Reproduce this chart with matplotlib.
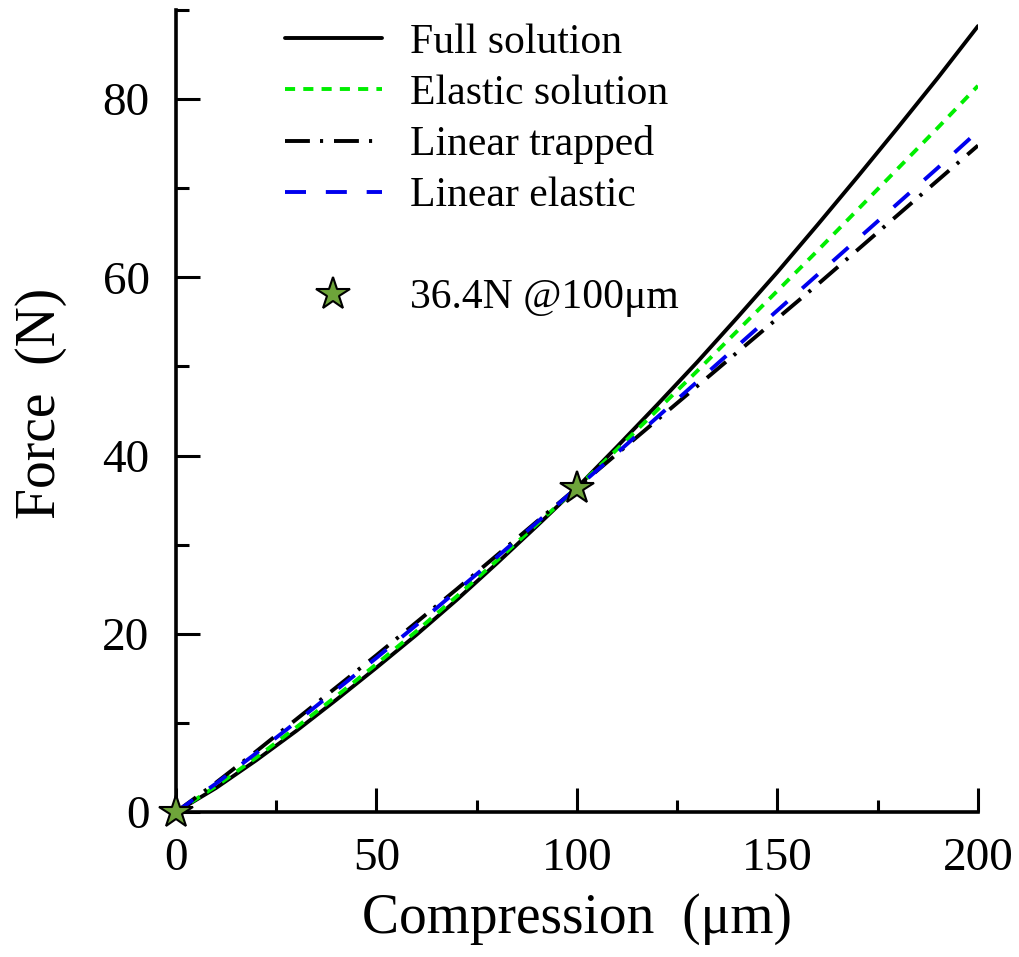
#!/usr/bin/env python3
"""Force vs compression curves for the full, elastic and linear solutions."""

import matplotlib

matplotlib.use("Agg")
import matplotlib.pyplot as plt
import numpy as np
from matplotlib.lines import Line2D

# Compression (um)
compression = [0, 10, 20, 30, 40, 50, 60, 70, 80, 90, 100,
               110, 120, 130, 140, 150, 160, 170, 180, 190, 200]

# Force (N)
full_solution = [0, 2.7, 5.8, 9.1, 12.6, 16.2, 19.9, 23.8, 27.9, 32.1, 36.4,
                 41.0, 45.7, 50.5, 55.5, 60.6, 65.9, 71.3, 76.8, 82.4, 88.2]
elastic_solution = [0, 2.9, 6.1, 9.5, 13.0, 16.6, 20.3, 24.2, 28.2, 32.3, 36.4,
                    40.7, 45.1, 49.5, 54.0, 58.5, 63.0, 67.6, 72.2, 76.8, 81.5]
linear_trapped = [0, 3.3, 6.8, 10.4, 14.0, 17.6, 21.3, 25.0, 28.8, 32.6, 36.4,
                  40.2, 44.0, 47.8, 51.6, 55.4, 59.2, 63.1, 67.0, 70.9, 74.8]
linear_elastic = [0, 3.2, 6.6, 10.1, 13.7, 17.3, 21.0, 24.8, 28.6, 32.5, 36.4,
                  40.3, 44.3, 48.3, 52.3, 56.3, 60.3, 64.3, 68.3, 72.3, 76.4]

star_x = [0, 100]
star_y = [0, 36.4]
star_label = "36.4N @100\u03bcm"
labels = ["Full solution", "Elastic solution", "Linear trapped", "Linear elastic"]

plt.rcParams["font.family"] = ["Liberation Serif", "DejaVu Serif"]

LW = 2.8
STAR_COLOR = "#6ea43a"

fig = plt.figure(figsize=(10.2, 9.57), dpi=100)
ax = fig.add_axes([0.1725, 0.1515, 0.7863, 0.838])

x = np.asarray(compression)
(h_full,) = ax.plot(x, full_solution, color="black", lw=LW, solid_capstyle="round")
(h_el,) = ax.plot(x, elastic_solution, color="#00ee00", lw=LW, dashes=(2.6, 2.1))
(h_lt,) = ax.plot(x, linear_trapped, color="black", lw=LW, dashes=(6.4, 2.6, 0.8, 2.8))
(h_le,) = ax.plot(x, linear_elastic, color="#0000ee", lw=LW, dashes=(5.4, 5.1))
(h_star,) = ax.plot(star_x, star_y, ls="none", marker="*", ms=25,
                    mfc=STAR_COLOR, mec="black", mew=1.5, clip_on=False, zorder=5)

ax.set_xlim(0, 200)
ax.set_ylim(0, 90)
ax.set_xticks([0, 50, 100, 150, 200])
ax.set_xticks([25, 75, 125, 175], minor=True)
ax.set_yticks([0, 20, 40, 60, 80])
ax.set_yticks([10, 30, 50, 70, 90], minor=True)

for side in ["top", "right"]:
    ax.spines[side].set_visible(False)
for side in ["left", "bottom"]:
    ax.spines[side].set_linewidth(2.6)

ax.tick_params(which="major", direction="in", length=17, width=2.2,
               labelsize=34)
ax.tick_params(axis="x", which="major", pad=18)
ax.tick_params(axis="y", which="major", pad=19)
ax.tick_params(which="minor", direction="in", length=9, width=2.2)

ax.set_xlabel("Compression  (\u03bcm)", fontsize=40)
ax.xaxis.set_label_coords(0.5, -0.101)
ax.set_ylabel("Force  (N)", fontsize=40)
ax.yaxis.set_label_coords(-0.136, 0.51)

blank = Line2D([], [], ls="none")
leg = ax.legend([h_full, h_el, h_lt, h_le, blank, h_star],
                labels + ["", star_label],
                loc="upper left", bbox_to_anchor=(0.089, 1.03), frameon=False,
                fontsize=30, handlelength=2.33, handletextpad=0.67,
                labelspacing=0.3, numpoints=1)

fig.savefig("out.png", dpi=100)
